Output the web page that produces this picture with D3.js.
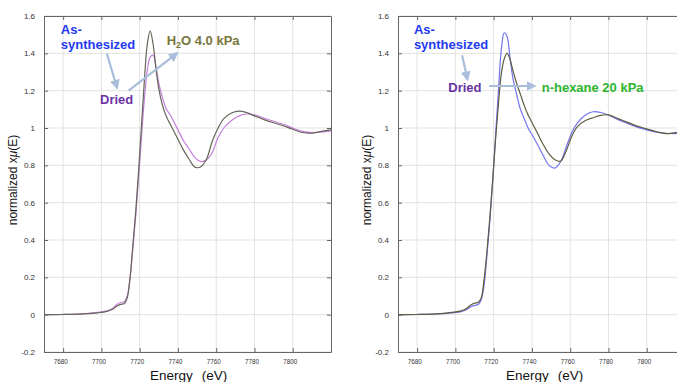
<!DOCTYPE html>
<html><head><meta charset="utf-8">
<script src="https://cdn.jsdelivr.net/npm/d3@7"></script>
<style>
body{margin:0;background:#fff;}
svg{display:block;font-family:"Liberation Sans",Arial,sans-serif;}
</style></head>
<body>
<svg id="c" width="677" height="382"></svg>
<script>
// ---- data ----
const energy = [7670,7680,7690,7698,7703,7706,7708,7710,7712,7713.5,7715,7716.5,7718,7719.5,7721,7722.5,7724,7725.5,7727,7728.5,7730,7732,7734,7736,7738,7740,7743,7746,7749,7752,7755,7758,7761,7764,7768,7772,7776,7780,7785,7790,7795,7800,7805,7810,7815,7820];

// left panel
const h2oLeft = [0,0.001,0.004,0.01,0.018,0.03,0.045,0.055,0.06,0.09,0.2,0.38,0.56,0.78,1.02,1.26,1.45,1.52,1.45,1.32,1.21,1.12,1.06,1.02,0.98,0.94,0.88,0.83,0.79,0.792,0.835,0.93,1.0,1.05,1.08,1.09,1.082,1.065,1.045,1.028,1.012,0.993,0.976,0.973,0.982,0.99];
const driedLeft = [0,0.001,0.004,0.012,0.02,0.035,0.055,0.065,0.07,0.1,0.2,0.36,0.54,0.74,0.96,1.16,1.31,1.38,1.39,1.33,1.24,1.16,1.1,1.07,1.03,0.99,0.93,0.885,0.84,0.82,0.83,0.87,0.95,1.0,1.04,1.065,1.075,1.07,1.052,1.036,1.02,1.0,0.982,0.975,0.978,0.985];

// right panel
const asSynthRight = [0,0.001,0.004,0.01,0.016,0.028,0.042,0.05,0.055,0.08,0.16,0.32,0.5,0.72,0.96,1.2,1.42,1.51,1.49,1.38,1.27,1.18,1.1,1.05,1.0,0.965,0.91,0.85,0.8,0.785,0.82,0.9,0.98,1.03,1.07,1.087,1.083,1.07,1.045,1.025,1.005,0.99,0.978,0.972,0.97,0.975];
const hexaneRight = [0,0.001,0.004,0.012,0.02,0.034,0.052,0.062,0.067,0.09,0.19,0.34,0.52,0.72,0.94,1.13,1.29,1.37,1.4,1.37,1.31,1.24,1.18,1.12,1.07,1.03,0.97,0.91,0.86,0.83,0.822,0.88,0.96,1.01,1.04,1.055,1.068,1.07,1.05,1.03,1.01,0.995,0.98,0.97,0.975,0.978];

const xTicks = [7680,7700,7720,7740,7760,7780,7800];
const yTicks = [-0.2,0,0.2,0.4,0.6,0.8,1,1.2,1.4,1.6];
const xDomain = [7670,7820];
const yDomain = [-0.2,1.6];

// ---- drawing ----
const svg = d3.select("#c");

function panel(cfg){
  const x = d3.scaleLinear().domain(xDomain).range([cfg.left, cfg.right]);
  const y = d3.scaleLinear().domain(yDomain).range([352,16]);
  const g = svg.append("g");
  // grid
  g.append("g").selectAll("line").data(xTicks).join("line")
    .attr("x1",d=>x(d)).attr("x2",d=>x(d)).attr("y1",y(yDomain[0])).attr("y2",y(yDomain[1]))
    .attr("stroke","#e2e2e2").attr("stroke-width",1);
  g.append("g").selectAll("line").data(yTicks).join("line")
    .attr("x1",x(xDomain[0])).attr("x2",x(xDomain[1])).attr("y1",d=>y(d)).attr("y2",d=>y(d))
    .attr("stroke","#e2e2e2").attr("stroke-width",1);
  // axes
  const fmt = d => (d<0?"-":"") + d3.format("~g")(Math.abs(d));
  const ax = (gen, tr) => {
    const a = g.append("g").attr("transform",tr).call(gen);
    a.select(".domain").attr("stroke","#666");
    a.selectAll(".tick line").attr("stroke","#666");
    a.selectAll("text").attr("fill","#333").style("font-size","8px").style("font-family","Liberation Sans, Arial, sans-serif");
    return a;
  };
  const bx = ax(d3.axisBottom(x).tickValues(xTicks).tickSizeInner(-4).tickSizeOuter(0).tickPadding(6).tickFormat(d3.format("d")), `translate(0,${y(yDomain[0])})`);
  bx.selectAll("text").attr("dx","-3").attr("textLength",14).attr("lengthAdjust","spacingAndGlyphs");
  ax(d3.axisTop(x).tickValues(xTicks).tickSizeInner(-4).tickSizeOuter(0).tickFormat(""), `translate(0,${y(yDomain[1])})`);
  ax(d3.axisLeft(y).tickValues(yTicks).tickSizeInner(-4).tickSizeOuter(0).tickPadding(9).tickFormat(fmt), `translate(${x(xDomain[0])},0)`);
  ax(d3.axisRight(y).tickValues(yTicks).tickSizeInner(-4).tickSizeOuter(0).tickFormat(""), `translate(${x(xDomain[1])},0)`);

  // curves
  const line = d3.line().x((d,i)=>x(energy[i])).y(d=>y(d)).curve(d3.curveCatmullRom.alpha(0.5));
  cfg.series.forEach(s=>{
    g.append("path").attr("d",line(s.values)).attr("fill","none")
      .attr("stroke",s.color).attr("stroke-width",1.2);
  });

  // titles
  g.append("text").attr("x",cfg.energyX).attr("y",380).attr("fill","#111")
    .style("font-size","13.5px").text("Energy").append("tspan").attr("dx",9).text("(eV)");
  const yt = g.append("text").attr("transform",`translate(${cfg.yTitleX},180) rotate(-90)`)
    .attr("text-anchor","middle").attr("fill","#111").style("font-size","12px");
  yt.append("tspan").text("normalized x");
  yt.append("tspan").style("font-style","italic").text("μ");
  yt.append("tspan").text("(E)");

  // arrows
  cfg.arrows.forEach(a=>{
    g.append("line").attr("x1",x(a[0])).attr("y1",y(a[1])).attr("x2",x(a[2])).attr("y2",y(a[3]))
      .attr("stroke","#a9bedb").attr("stroke-width",2.2).attr("marker-end","url(#ah)");
  });
  // labels
  cfg.labels.forEach(l=>{
    const t = g.append("text").attr("x",x(l.e)).attr("y",y(l.v)).attr("fill",l.color)
      .style("font-size","13px").style("font-weight","bold");
    l.parts.forEach(p=>{
      const ts = t.append("tspan").text(p.t);
      if(p.sub){ ts.attr("dy",3).style("font-size","9px"); }
      if(p.back){ ts.attr("dy",-3); }
    });
  });
}

svg.append("defs").append("marker").attr("id","ah").attr("viewBox","0 0 10 10")
  .attr("refX",8).attr("refY",5).attr("markerWidth",4.5).attr("markerHeight",4.5)
  .attr("markerUnits","strokeWidth").attr("orient","auto")
  .append("path").attr("d","M0,0 L10,5 L0,10 z").attr("fill","#a9bedb");

panel({
  left:44, right:331, energyX:150, yTitleX:17,
  series:[
    {values:driedLeft, color:"#c47fdc"},
    {values:h2oLeft, color:"#66665a"}
  ],
  arrows:[[7702.8,1.40,7708.2,1.215],[7714.2,1.20,7739.5,1.40]],
  labels:[
    {e:7678.8,v:1.505,color:"#1f3af0",parts:[{t:"As-"}]},
    {e:7678.8,v:1.425,color:"#1f3af0",parts:[{t:"synthesized"}]},
    {e:7699.3,v:1.128,color:"#6b33a6",parts:[{t:"Dried"}]},
    {e:7734.1,v:1.445,color:"#77773c",parts:[{t:"H"},{t:"2",sub:true},{t:"O 4.0 kPa",back:true}]}
  ]
});

panel({
  left:398, right:685, energyX:506, yTitleX:371,
  series:[
    {values:asSynthRight, color:"#7474ef"},
    {values:hexaneRight, color:"#5f5d40"}
  ],
  arrows:[[7703.5,1.39,7706.3,1.26],[7717.6,1.225,7741.3,1.225]],
  labels:[
    {e:7678.3,v:1.505,color:"#1f3af0",parts:[{t:"As-"}]},
    {e:7678.3,v:1.425,color:"#1f3af0",parts:[{t:"synthesized"}]},
    {e:7696.3,v:1.195,color:"#6b33a6",parts:[{t:"Dried"}]},
    {e:7745.1,v:1.195,color:"#2db52d",parts:[{t:"n-hexane 20 kPa"}]}
  ]
});
</script>
</body></html>
